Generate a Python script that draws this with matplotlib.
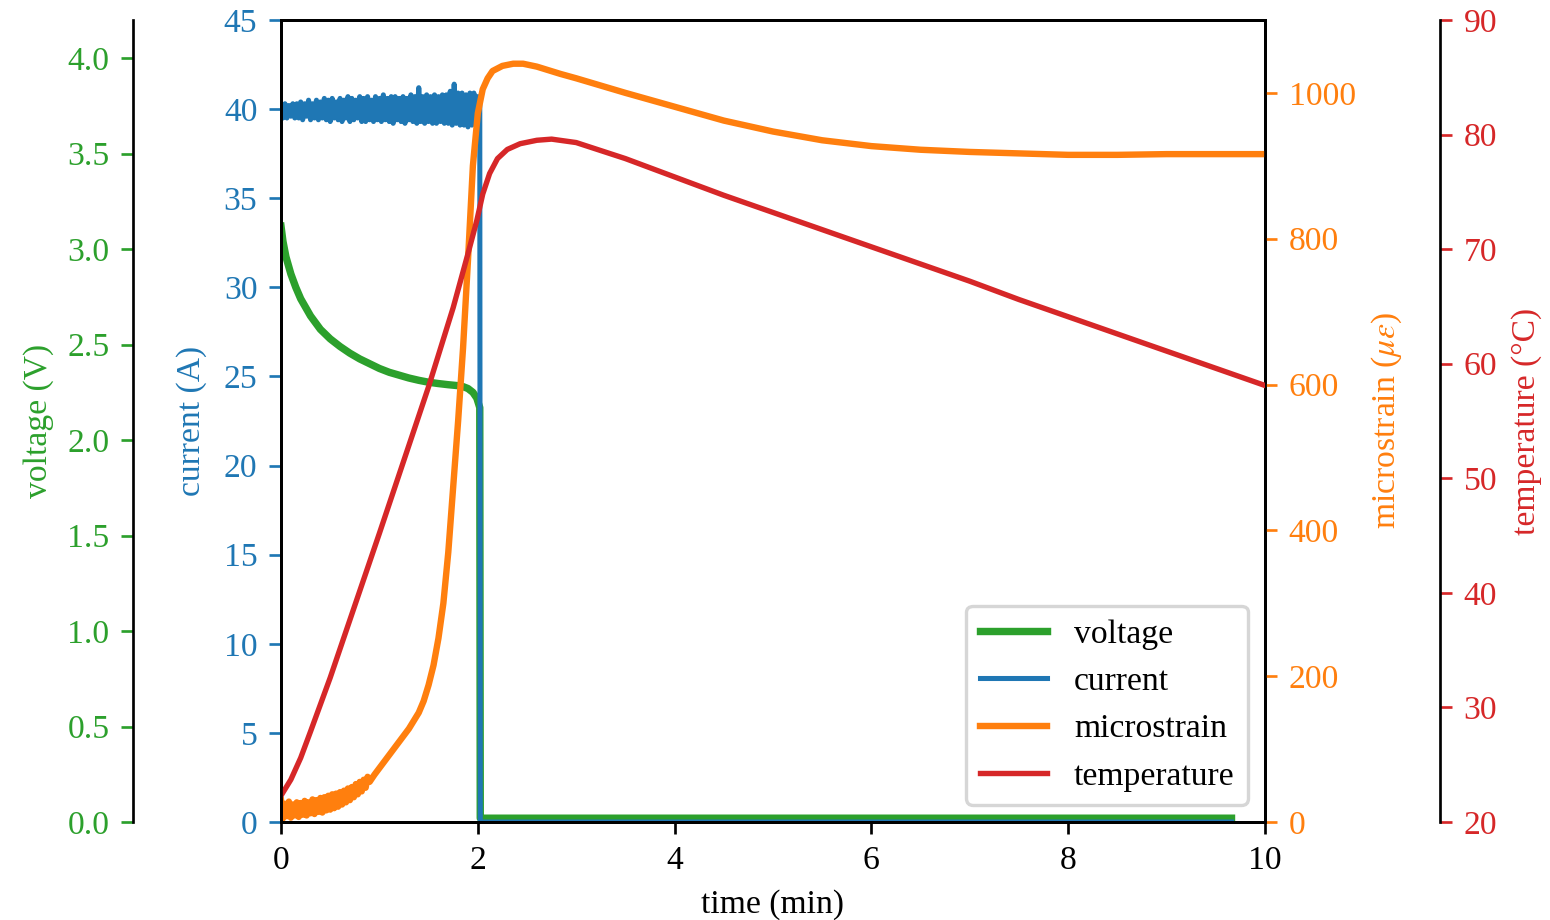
import matplotlib
matplotlib.use("Agg")
import matplotlib.pyplot as plt
import numpy as np

plt.rcParams['font.family'] = ['Liberation Serif', 'DejaVu Serif']
plt.rcParams['mathtext.fontset'] = 'stix'
plt.rcParams['font.size'] = 10

# ---------------- data ----------------
# current (A): noisy plateau sampled every 0.02 min from 0 to 2.00 min, then cut-off
current_t_step = 0.02
current_plateau = [40.1, 39.5, 40.3, 39.5, 40.2, 39.6, 40.3, 39.5, 40.3, 39.5,
                   40.4, 39.4, 40.3, 39.6, 40.5, 39.4, 40.3, 39.5, 40.5, 39.4,
                   40.4, 39.5, 40.6, 39.4, 40.5, 39.3, 40.6, 39.5, 40.4, 39.4,
                   40.6, 39.3, 40.5, 39.5, 40.7, 39.3, 40.6, 39.4, 40.5, 39.5,
                   40.7, 39.3, 40.6, 39.3, 40.7, 39.4, 40.5, 39.3, 40.7, 39.4,
                   40.6, 39.3, 40.8, 39.4, 40.6, 39.3, 40.7, 39.2, 40.7, 39.4,
                   40.6, 39.3, 40.7, 39.2, 40.6, 39.4, 40.8, 39.3, 40.7, 39.2,
                   41.2, 39.3, 40.7, 39.2, 40.8, 39.3, 40.7, 39.2, 40.8, 39.2,
                   40.7, 39.3, 40.8, 39.2, 40.8, 39.2, 41.0, 39.1, 41.4, 39.2,
                   40.9, 39.1, 40.9, 39.1, 40.8, 39.0, 40.9, 39.1, 40.9, 39.2, 40.7]
current_tail_t = [2.02, 2.025, 9.66]
current_tail = [40.4, 0.0, 0.0]

# voltage (V)
voltage_t = [0.0, 0.02, 0.05, 0.10, 0.15, 0.20, 0.30, 0.40, 0.50, 0.60, 0.70,
             0.80, 0.90, 1.00, 1.10, 1.20, 1.30, 1.40, 1.50, 1.60, 1.70, 1.80,
             1.85, 1.90, 1.95, 1.99, 2.02, 2.025, 9.66]
voltage = [3.12, 3.04, 2.96, 2.87, 2.80, 2.74, 2.65, 2.58, 2.53, 2.49, 2.455,
           2.425, 2.40, 2.375, 2.355, 2.34, 2.325, 2.313, 2.303, 2.296, 2.29, 2.285,
           2.28, 2.27, 2.25, 2.22, 2.17, 0.02, 0.02]

# microstrain: noisy start sampled every 0.02 min from 0 to 0.90 min
strain_noise_step = 0.02
strain_noise = [30, 5, 25, 8, 28, 6, 24, 9, 27, 7, 26, 10, 29, 9, 27, 12,
                31, 11, 30, 14, 33, 13, 34, 16, 36, 17, 38, 19, 39, 21, 41,
                24, 43, 27, 46, 30, 48, 34, 52, 38, 55, 42, 58, 47, 62, 55]
strain_t = [0.95, 1.00, 1.10, 1.20, 1.30, 1.40, 1.45, 1.50, 1.55, 1.60, 1.65, 1.70,
            1.75, 1.80, 1.85, 1.90, 1.95, 2.00, 2.05, 2.10, 2.15, 2.25, 2.36,
            2.46, 2.60, 2.84, 3.00, 3.50, 4.00, 4.50, 5.00, 5.50, 6.00, 6.50,
            7.00, 7.50, 8.00, 8.50, 9.00, 9.50, 10.0]
strain = [65, 74, 92, 110, 128, 150, 166, 188, 215, 252, 300, 370,
          460, 550, 650, 770, 900, 972, 1005, 1020, 1030, 1037, 1040,
          1040, 1036, 1026, 1020, 1000, 981, 962, 947, 935, 927, 922,
          919, 917, 915, 915, 916, 916, 916]

# temperature (°C)
temp_t = [0.0, 0.10, 0.20, 0.30, 0.50, 0.75, 1.00, 1.25, 1.50, 1.75, 1.90,
          1.99, 2.05, 2.12, 2.20, 2.30, 2.43, 2.60, 2.75, 3.00, 3.50, 4.00,
          4.50, 5.00, 5.50, 6.00, 6.50, 7.00, 7.50, 8.00, 8.50, 9.00, 9.50, 10.0]
temp = [22.3, 23.7, 25.6, 27.9, 32.6, 38.9, 45.2, 51.6, 58.0, 64.9, 69.6,
        72.5, 74.8, 76.6, 77.9, 78.7, 79.2, 79.5, 79.6, 79.3, 77.9, 76.3,
        74.7, 73.2, 71.7, 70.2, 68.7, 67.2, 65.6, 64.1, 62.6, 61.1, 59.6, 58.1]

x_ticks = [0, 2, 4, 6, 8, 10]
v_ticks = [0.0, 0.5, 1.0, 1.5, 2.0, 2.5, 3.0, 3.5, 4.0]
c_ticks = [0, 5, 10, 15, 20, 25, 30, 35, 40, 45]
s_ticks = [0, 200, 400, 600, 800, 1000]
t_ticks = [20, 30, 40, 50, 60, 70, 80, 90]

# ---------------- assemble series ----------------
c_t = list(np.arange(len(current_plateau)) * current_t_step) + current_tail_t
c_v = current_plateau + current_tail
s_t = list(np.arange(len(strain_noise)) * strain_noise_step) + strain_t
s_v = strain_noise + strain

GREEN, BLUE, ORANGE, RED = '#2ca02c', '#1f77b4', '#ff7f0e', '#d62728'

fig = plt.figure(figsize=(1550 / 242.2, 920 / 242.2), dpi=242.2)
ax_v = fig.add_axes([0.1813, 0.1065, 0.8161 - 0.1813, 0.9783 - 0.1065])
ax_c = ax_v.twinx()
ax_s = ax_v.twinx()
ax_t = ax_v.twinx()

lv, = ax_v.plot(voltage_t, voltage, color=GREEN, lw=2.2, label='voltage')
lc, = ax_c.plot(c_t, c_v, color=BLUE, lw=1.5, label='current')
ls, = ax_s.plot(s_t, s_v, color=ORANGE, lw=1.9, label='microstrain')
lt, = ax_t.plot(temp_t, temp, color=RED, lw=1.6, label='temperature')

ax_v.set_xlim(0, 10)
ax_v.set_xticks(x_ticks)
ax_v.set_xlabel('time (min)', labelpad=4)

ax_v.set_ylim(0, 4.2)
ax_v.set_yticks(v_ticks)
ax_v.set_yticklabels([f'{v:.1f}' for v in v_ticks])
ax_v.spines['left'].set_position(('axes', -0.1504))
ax_v.set_ylabel('voltage (V)', color=GREEN)
ax_v.tick_params(axis='y', colors=GREEN)

ax_c.yaxis.tick_left()
ax_c.yaxis.set_label_position('left')
ax_c.set_ylim(0, 45)
ax_c.set_yticks(c_ticks)
ax_c.set_ylabel('current (A)', color=BLUE, labelpad=5)
ax_c.tick_params(axis='y', colors=BLUE)

ax_s.set_ylim(0, 1100)
ax_s.set_yticks(s_ticks)
ax_s.set_ylabel(r'microstrain ($\mu\varepsilon$)', color=ORANGE)
ax_s.tick_params(axis='y', colors=ORANGE)

ax_t.set_ylim(20, 90)
ax_t.set_yticks(t_ticks)
ax_t.spines['right'].set_position(('axes', 1.178))
ax_t.set_ylabel('temperature (°C)', color=RED)
ax_t.tick_params(axis='y', colors=RED)

for a in (ax_v, ax_c, ax_s, ax_t):
    for sp in a.spines.values():
        sp.set_color('black')

ax_t.legend(handles=[lv, lc, ls, lt], loc='lower right')

fig.savefig('out.png', dpi=242.2)
